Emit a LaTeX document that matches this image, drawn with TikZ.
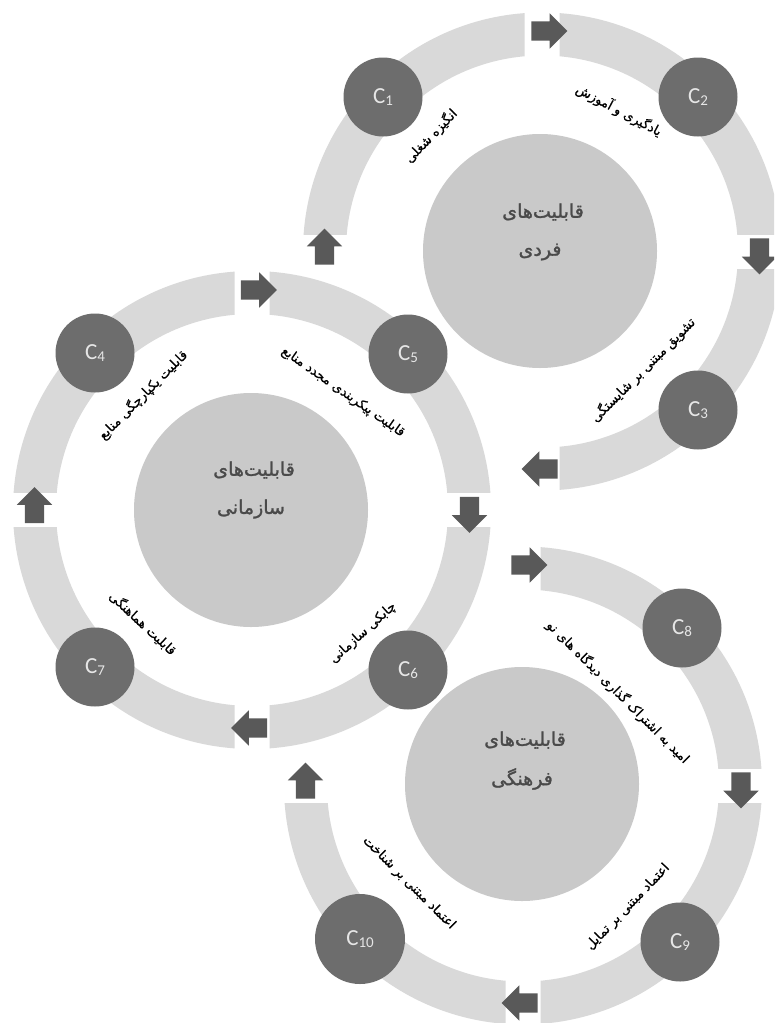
\documentclass[tikz,border=0pt]{standalone}
\usepackage{fontspec}
\usetikzlibrary{shapes.arrows}
\TeXXeTstate=1
\newfontfamily\fa[Script=Arabic]{DejaVu Sans}
\newfontfamily\fal[Script=Arabic, FakeBold=0.7]{DejaVu Sans}
\newfontfamily\fah[Script=Arabic, FakeBold=1.4]{DejaVu Sans}
\newfontfamily\lat{Carlito}
\definecolor{ringgray}{HTML}{D9D9D9}
\definecolor{hubgray}{HTML}{C9C9C9}
\definecolor{nodegray}{HTML}{6D6D6D}
\definecolor{arrowgray}{HTML}{595959}
\definecolor{hubtext}{HTML}{4A4A4A}
\definecolor{ctext}{HTML}{E6E6E6}
\newcommand{\Clab}[1]{C\raisebox{-1.5pt}{\fontsize{15}{15}\selectfont #1}}
\newcommand{\ringquad}[4]{%
  \begin{scope}
    \clip ({#1+(#3)*17.5},{#2+(#4)*17.5}) rectangle ({#1+(#3)*300},{#2+(#4)*300});
    \fill[ringgray, even odd rule] (#1,#2) circle[radius=239] (#1,#2) circle[radius=196];
  \end{scope}}
\tikzset{
  flowarrow/.style={single arrow, fill=arrowgray, draw=none, inner xsep=0pt,
    inner ysep=9.5pt, minimum width=0pt, minimum height=36pt,
    single arrow head extend=8pt, anchor=center},
  hub/.style={circle, fill=hubgray, draw=none, minimum size=234pt, inner sep=0pt},
  cnode/.style={circle, fill=nodegray, draw=none, minimum size=79pt, inner sep=0pt,
    text=ctext, font=\lat\fontsize{23}{23}\selectfont},
  hubtxt/.style={text=hubtext, font=\fah\fontsize{19}{21}\selectfont, inner sep=0pt},
  arclabel/.style={text=black, font=\fal\fontsize{13}{15}\selectfont, inner sep=0pt}
}
\begin{document}
\begin{tikzpicture}[x=1pt,y=-1pt]
\useasboundingbox (0,0) rectangle (774,1023);
\clip (0,0) rectangle (774,1023);
\fill[white] (0,0) rectangle (774,1023);
% ---------- rings ----------
% top ring (individual), centre (542,251.5)
\ringquad{542}{251.5}{-1}{-1}
\ringquad{542}{251.5}{1}{-1}
\ringquad{542}{251.5}{1}{1}
% middle ring (organisational), centre (252,510)
\ringquad{252}{510}{-1}{-1}
\ringquad{252}{510}{1}{-1}
\ringquad{252}{510}{1}{1}
\ringquad{252}{510}{-1}{1}
% bottom ring (cultural), centre (523,785.5)
\ringquad{523}{785.5}{1}{-1}
\ringquad{523}{785.5}{1}{1}
\ringquad{523}{785.5}{-1}{1}
% ---------- arrows ----------
\node[flowarrow] (ta1) at (544.5,31) {};
\node[flowarrow, rotate=-90] (ta2) at (759.5,251.5) {};
\node[flowarrow, rotate=180] (ta3) at (544.5,469) {};
\node[flowarrow, rotate=90] (ta4) at (324.5,251.5) {};
\node[flowarrow] (ma1) at (254,290) {};
\node[flowarrow, rotate=-90] (ma2) at (469.5,510) {};
\node[flowarrow, rotate=180] (ma3) at (254,728) {};
\node[flowarrow, rotate=90] (ma4) at (34.5,510) {};
\node[flowarrow] (ba1) at (524.5,565) {};
\node[flowarrow, rotate=-90] (ba2) at (741,785.5) {};
\node[flowarrow, rotate=180] (ba3) at (524.5,1003) {};
\node[flowarrow, rotate=90] (ba4) at (305.5,785.5) {};
% ---------- hubs ----------
\node[hub] (hubT) at (540,251) {};
\node[hub] (hubM) at (251,510) {};
\node[hub] (hubB) at (522,784) {};
\node[hubtxt] (hubT1) at (543,212) {\beginR قابلیت‌های\endR};
\node[hubtxt] (hubT2) at (540,252) {\beginR فردی\endR};
\node[hubtxt] (hubM1) at (254,470) {\beginR قابلیت‌های\endR};
\node[hubtxt] (hubM2) at (251,509) {\beginR سازمانی\endR};
\node[hubtxt] (hubB1) at (525,740) {\beginR قابلیت‌های\endR};
\node[hubtxt] (hubB2) at (522,779) {\beginR فرهنگی\endR};
% ---------- C nodes ----------
\node[cnode] (c1) at (383,97) {\Clab{1}};
\node[cnode] (c2) at (698,97) {\Clab{2}};
\node[cnode] (c3) at (698,410) {\Clab{3}};
\node[cnode] (c4) at (95,353) {\Clab{4}};
\node[cnode] (c5) at (408,354) {\Clab{5}};
\node[cnode] (c6) at (408,670) {\Clab{6}};
\node[cnode] (c7) at (95,667) {\Clab{7}};
\node[cnode] (c8) at (682,628) {\Clab{8}};
\node[cnode] (c9) at (680,942) {\Clab{9}};
\node[cnode, minimum size=90pt] (c10) at (360,939) {\Clab{10}};
% ---------- arc labels ----------
\node[arclabel, rotate=46] (l1) at (431,136) {\beginR انگیزه شغلی\endR};
\node[arclabel, rotate=-28] (l2) at (619,110) {\beginR یادگیری و آموزش\endR};
\node[arclabel, rotate=45] (l3) at (643,370) {\beginR تشویق مبتنی بر شایستگی\endR};
\node[arclabel, rotate=45] (l4) at (143,395) {\beginR قابلیت یکپارچگی منابع\endR};
\node[arclabel, rotate=-35] (l5) at (343,392) {\beginR قابلیت پیکربندی مجدد منابع\endR};
\node[arclabel, rotate=42] (l6) at (363,633) {\beginR چابکی سازمانی\endR};
\node[arclabel, rotate=-43] (l7) at (143,623) {\beginR قابلیت هماهنگی\endR};
\node[arclabel, rotate=-45] (l8) at (618,692) {\beginR امید به اشتراک گذاری دیدگاه های نو\endR};
\node[arclabel, rotate=46] (l9) at (628,907) {\beginR اعتماد مبتنی بر تمایل\endR};
\node[arclabel, rotate=-45] (l10) at (409,883) {\beginR اعتماد مبتنی بر شناخت\endR};
\end{tikzpicture}
\end{document}
